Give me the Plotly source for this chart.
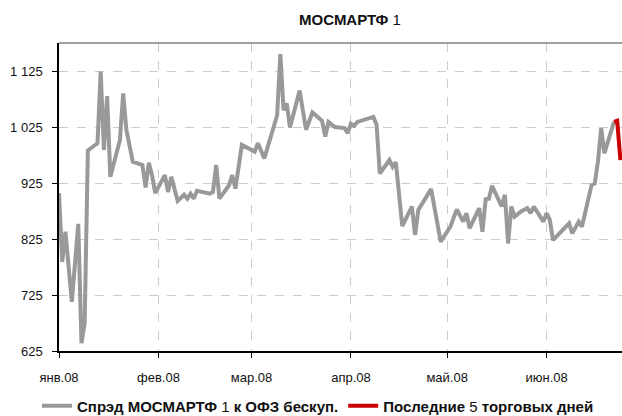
import plotly.graph_objects as go

dates = ["2008-01-01","2008-01-02","2008-01-03","2008-01-05","2008-01-07","2008-01-08","2008-01-09","2008-01-10",
         "2008-01-13","2008-01-14","2008-01-15","2008-01-16","2008-01-17","2008-01-20","2008-01-21","2008-01-22",
         "2008-01-24","2008-01-27","2008-01-28","2008-01-29","2008-01-30","2008-01-31","2008-02-03","2008-02-04",
         "2008-02-05","2008-02-07","2008-02-09","2008-02-10","2008-02-11","2008-02-12","2008-02-13","2008-02-17",
         "2008-02-18","2008-02-19","2008-02-20","2008-02-23","2008-02-24","2008-02-25","2008-02-27","2008-03-02",
         "2008-03-03","2008-03-05","2008-03-09","2008-03-10","2008-03-11","2008-03-12","2008-03-13","2008-03-16",
         "2008-03-18","2008-03-20","2008-03-23","2008-03-24","2008-03-25","2008-03-27","2008-03-30","2008-03-31",
         "2008-04-01","2008-04-02","2008-04-03","2008-04-08","2008-04-09","2008-04-10","2008-04-13","2008-04-14",
         "2008-04-15","2008-04-17","2008-04-20","2008-04-21","2008-04-22","2008-04-26","2008-04-29","2008-05-02",
         "2008-05-04","2008-05-06","2008-05-07","2008-05-08","2008-05-11","2008-05-12","2008-05-13","2008-05-14",
         "2008-05-15","2008-05-18","2008-05-19","2008-05-20","2008-05-21","2008-05-22","2008-05-24","2008-05-26",
         "2008-05-27","2008-05-28","2008-05-31","2008-06-01","2008-06-02","2008-06-03","2008-06-08","2008-06-09",
         "2008-06-11","2008-06-12","2008-06-15","2008-06-16","2008-06-17","2008-06-18","2008-06-19","2008-06-22"]
spread = [907, 784, 838, 713, 852, 639, 675, 983,
          996, 1124, 984, 1080, 936, 1002, 1085, 1020,
          963, 957, 917, 961, 939, 907, 939, 909,
          936, 893, 904, 897, 906, 897, 911, 906,
          909, 957, 897, 921, 939, 915, 993, 981,
          996, 969, 1046, 1155, 1055, 1067, 1024, 1090,
          1020, 1051, 1036, 1008, 1034, 1025, 1023, 1014,
          1031, 1027, 1034, 1043, 1029, 942, 966, 954,
          962, 848, 883, 832, 877, 914, 820, 847,
          878, 856, 871, 844, 880, 838, 896, 897,
          920, 883, 904, 817, 883, 865, 874, 880,
          871, 883, 856, 871, 859, 823, 853, 835,
          856, 847, 921, 924, 963, 1023, 978, 1034]

last_dates = ["2008-06-22", "2008-06-23", "2008-06-24"]
last_values = [1034, 1036, 966]

y_ticks = [625, 725, 825, 925, 1025, 1125]
y_ticktext = ["625", "725", "825", "925", "1 025", "1 125"]
x_ticks = ["2008-01-01", "2008-02-01", "2008-03-01", "2008-04-01", "2008-05-01", "2008-06-01"]
x_ticktext = ["янв.08", "фев.08", "мар.08", "апр.08", "май.08", "июн.08"]

FONT = "Liberation Sans, Arial, sans-serif"

fig = go.Figure()
fig.add_trace(go.Scatter(x=dates, y=spread, mode="lines",
                         line=dict(color="#999999", width=4),
                         name="<b>Спрэд МОСМАРТФ</b> 1 <b>к ОФЗ бескуп.</b>"))
fig.add_trace(go.Scatter(x=last_dates, y=last_values, mode="lines",
                         line=dict(color="#cc0000", width=4),
                         name="<b>Последние</b> 5 <b>торговых дней</b>"))

fig.update_layout(
    width=622, height=416,
    margin=dict(l=59, r=0, t=43, b=65, autoexpand=False),
    paper_bgcolor="white", plot_bgcolor="white",
    font=dict(family=FONT, size=12, color="#111111"),
    title=dict(text="<b>МОСМАРТФ</b> 1", x=350 / 622, xanchor="center",
               y=1 - 20 / 416, yanchor="middle", font=dict(size=15, family=FONT, color="#111111")),
    showlegend=True,
    legend=dict(orientation="h", x=318 / 622, xanchor="center", xref="container",
                y=10 / 416, yref="container", yanchor="middle",
                font=dict(size=15, family=FONT, color="#111111"),
                tracegroupgap=0, bgcolor="rgba(0,0,0,0)"),
    xaxis=dict(type="date", range=["2008-01-01", "2008-06-24 12:00"],
               tickvals=x_ticks, ticktext=x_ticktext, tickangle=0, automargin=False,
               ticks="outside", ticklen=5, tickcolor="#000000", ticklabelstandoff=9,
               showline=True, linecolor="#000000", linewidth=1.5,
               showgrid=True, gridcolor="#cccccc", griddash="dash", gridwidth=1,
               zeroline=False, tickfont=dict(size=13, family=FONT)),
    yaxis=dict(range=[625, 1175], tickvals=y_ticks, ticktext=y_ticktext, automargin=False,
               ticks="outside", ticklen=5, tickcolor="#000000", ticklabelstandoff=7,
               showline=True, linecolor="#000000", linewidth=1.5,
               showgrid=True, gridcolor="#cccccc", griddash="dash", gridwidth=1,
               zeroline=False, tickfont=dict(size=13, family=FONT)),
    shapes=[dict(type="line", xref="paper", yref="paper", x0=0, x1=1, y0=1, y1=1,
                 line=dict(color="#808080", width=1.5))],
)

fig.write_html("out.html", config={"displayModeBar": False},
               post_script="document.body.style.margin='0';document.body.style.overflow='hidden';")
